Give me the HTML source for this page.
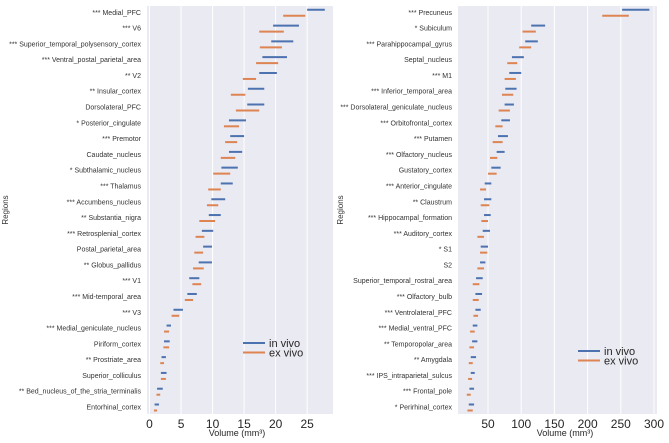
<!DOCTYPE html>
<html><head><meta charset="utf-8"><style>
html,body{margin:0;padding:0;background:#fff;}
svg{display:block;font-family:"Liberation Sans","DejaVu Sans",sans-serif;}
</style></head><body>
<svg id="chart" width="669" height="443" viewBox="0 0 669 443" xmlns="http://www.w3.org/2000/svg"></svg>
<script>
// ---- Left panel data ----
const leftRegions = ["*** Medial_PFC","*** V6","*** Superior_temporal_polysensory_cortex","*** Ventral_postal_parietal_area","** V2","** Insular_cortex","Dorsolateral_PFC","* Posterior_cingulate","*** Premotor","Caudate_nucleus","* Subthalamic_nucleus","*** Thalamus","*** Accumbens_nucleus","** Substantia_nigra","*** Retrosplenial_cortex","Postal_parietal_area","** Globus_pallidus","*** V1","*** Mid-temporal_area","*** V3","*** Medial_geniculate_nucleus","Piriform_cortex","** Prostriate_area","Superior_colliculus","** Bed_nucleus_of_the_stria_terminalis","Entorhinal_cortex"];
const leftInVivoLo = [25.0,19.6,19.3,17.9,17.4,15.6,15.5,12.6,12.8,12.6,11.4,11.3,9.8,9.4,8.3,8.5,7.8,6.3,6.0,3.8,2.7,2.3,1.9,1.8,1.2,0.8];
const leftInVivoHi = [27.8,23.7,22.8,21.8,20.2,18.2,18.2,15.3,15.0,14.7,14.0,13.2,12.0,11.3,10.1,9.9,9.9,7.9,7.5,5.3,3.4,3.2,2.6,2.7,2.1,1.5];
const leftExVivoLo = [21.2,17.4,17.5,16.9,14.8,12.9,13.7,11.8,12.0,11.3,10.1,9.3,9.1,7.9,7.3,7.1,6.9,6.8,5.6,3.5,2.3,2.2,1.7,1.8,1.1,0.7];
const leftExVivoHi = [24.7,21.3,21.0,20.4,16.9,15.2,17.4,14.2,13.9,13.6,12.8,11.3,10.9,10.4,8.7,8.5,8.6,8.2,6.9,4.7,3.1,3.1,2.3,2.6,1.7,1.2];
const leftTicks = [0,5,10,15,20,25];
// ---- Right panel data ----
const rightRegions = ["*** Precuneus","* Subiculum","*** Parahippocampal_gyrus","Septal_nucleus","*** M1","*** Inferior_temporal_area","*** Dorsolateral_geniculate_nucleus","*** Orbitofrontal_cortex","*** Putamen","*** Olfactory_nucleus","Gustatory_cortex","*** Anterior_cingulate","** Claustrum","*** Hippocampal_formation","*** Auditory_cortex","* S1","S2","Superior_temporal_rostral_area","*** Olfactory_bulb","*** Ventrolateral_PFC","*** Medial_ventral_PFC","** Temporopolar_area","** Amygdala","*** IPS_intraparietal_sulcus","*** Frontal_pole","* Perirhinal_cortex"];
const rightInVivoLo = [252,115,106,86,82,76,75,70,65,63,55,45,44,44,42,39,38,32,31,31,27,26,24,24,22,21];
const rightInVivoHi = [293,136,125,104,100,93,89,83,80,75,69,55,55,54,53,50,46,42,41,39,34,34,32,30,29,29];
const rightExVivoLo = [222,102,97,79,75,71,66,61,57,53,50,38,39,40,34,38,34,27,27,28,23,22,21,20,18,19];
const rightExVivoHi = [262,122,115,94,92,88,83,72,72,64,63,47,52,50,44,49,44,37,36,35,30,29,27,26,24,27];
const rightTicks = [50,100,150,200,250,300];

const NS = "http://www.w3.org/2000/svg";
const svg = document.getElementById("chart");
function mk(tag, attrs, parent){
  const e = document.createElementNS(NS, tag);
  for (const k in attrs) e.setAttribute(k, attrs[k]);
  (parent||svg).appendChild(e);
  return e;
}
const BLUE = "#4c72b0", ORANGE = "#dd8452";

function panel(cfg){
  const g = mk("g", {});
  
  
  const xs = v => cfg.x0 + (v - cfg.xmin) / (cfg.xmax - cfg.xmin) * (cfg.x1 - cfg.x0);
  const n = cfg.regions.length;
  const ys = i => cfg.yFirst + i * (cfg.yLast - cfg.yFirst) / (n - 1);
  const bg = mk("rect", {x:cfg.x0, y:cfg.top, width:cfg.x1-cfg.x0, height:cfg.bottom-cfg.top, fill:"#eaeaf2"}, g);
  
  
  cfg.ticks.forEach(t => {
    const x = xs(t);
    const gl = mk("line", {x1:x, x2:x, y1:cfg.top, y2:cfg.bottom, stroke:"#fff", "stroke-width":1}, g);
    
    
    const tl = mk("text", {x:x, y:428, "font-size":12, fill:"#262626", "text-anchor":"middle"}, g);
    tl.textContent = t;
    
    
  });
  cfg.regions.forEach((r, i) => {
    const y = ys(i);
    const lb = mk("text", {x:cfg.x0-6, y:y+2.5, "font-size":7, fill:"#333", "text-anchor":"end"}, g);
    lb.textContent = r;
    
    
    const b = mk("line", {x1:xs(cfg.ivLo[i]), x2:xs(cfg.ivHi[i]), y1:y-2.5, y2:y-2.5, stroke:BLUE, "stroke-width":2}, g);
    
    
    const o = mk("line", {x1:xs(cfg.evLo[i]), x2:xs(cfg.evHi[i]), y1:y+3.5, y2:y+3.5, stroke:ORANGE, "stroke-width":2}, g);
    
    
  });
  const yt = mk("text", {x:0, y:0, "font-size":8, fill:"#333", "text-anchor":"middle", transform:`translate(${cfg.ytx},210) rotate(-90)`}, g);
  yt.textContent = "Regions";
  
  
  const xt = mk("text", {x:cfg.xtx, y:436, "font-size":9, fill:"#262626", "text-anchor":"middle"}, g);
  xt.textContent = "Volume (mm³)";
  
  
  // legend
  const lg = mk("g", {}, g);
  
  
  [["in vivo", BLUE, cfg.ly], ["ex vivo", ORANGE, cfg.ly+9.5]].forEach(([t, c, y]) => {
    const l = mk("line", {x1:cfg.lx, x2:cfg.lx+22, y1:y, y2:y, stroke:c, "stroke-width":2}, lg);
    
    
    const tx = mk("text", {x:cfg.lx+26, y:y+4, "font-size":11, fill:"#262626"}, lg);
    tx.textContent = t;
    
    
  });
}

panel({name:"left-panel", regions:leftRegions, ivLo:leftInVivoLo, ivHi:leftInVivoHi, evLo:leftExVivoLo, evHi:leftExVivoHi,
  ticks:leftTicks, x0:147, x1:333, xmin:-0.4, xmax:29.1, top:6, bottom:414, yFirst:12.3, yLast:407,
  ytx:8, xtx:237, lx:243, ly:343});
panel({name:"right-panel", regions:rightRegions, ivLo:rightInVivoLo, ivHi:rightInVivoHi, evLo:rightExVivoLo, evHi:rightExVivoHi,
  ticks:rightTicks, x0:458, x1:657, xmin:4.8, xmax:304.5, top:6, bottom:414, yFirst:12.3, yLast:407,
  ytx:343, xtx:565, lx:578, ly:351});
</script>
</body></html>
